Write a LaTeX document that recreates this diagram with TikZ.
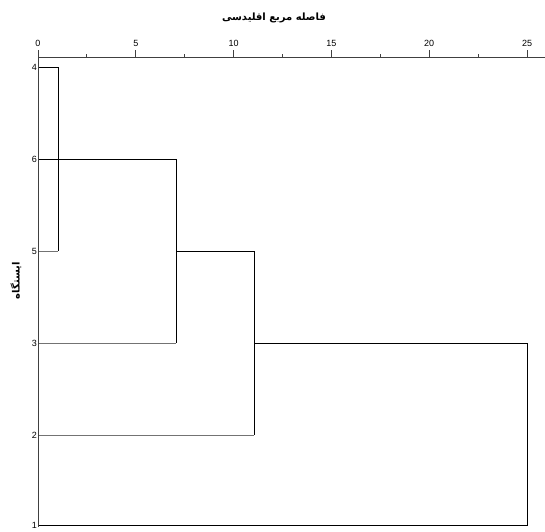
\documentclass[tikz,border=0pt]{standalone}
\usepackage{fontspec}
\setmainfont{Liberation Sans}
\newfontfamily\arabicfont[Script=Arabic]{DejaVu Sans}
\TeXXeTstate=1
\begin{document}
\begin{tikzpicture}[x=1pt,y=-1pt,
  lbl/.style={font=\fontsize{9}{10}\selectfont, inner sep=1pt},
  ar/.style={font=\arabicfont\bfseries\fontsize{10}{12}\selectfont},
  axisline/.style={draw=black!75, line width=1pt},
  dk/.style={draw=black, line width=0.9pt},
  lt/.style={draw=black!55, line width=0.9pt}]
\useasboundingbox (0,0) rectangle (545,531);
% axis
\coordinate (ax0) at (38,57);
\coordinate (axE) at (545,57);
\coordinate (ay1) at (38,527);
\draw[axisline] (ax0) -- (axE);
\draw[axisline] (ax0) -- (ay1);
\foreach \v [count=\i from 0] in {0,5,10,15,20,25}{
  \draw[axisline] (38+19.56*\v,57) -- (38+19.56*\v,50);
  \node[lbl, anchor=south] (t\i) at (38+19.56*\v,48) {\v};
}
\foreach \v in {2.5,7.5,12.5,17.5,22.5}{
  \draw[axisline] (38+19.56*\v,57) -- (38+19.56*\v,54);
}
% title
\node[ar] (title) at (274,18) {\beginR فاصله مربع اقلیدسی\endR};
\node[ar, rotate=90] (ylab) at (16,281) {\beginR ایستگاه\endR};
% row labels and leaves
\foreach \n/\y in {4/67,6/159,5/251,3/343,2/435,1/525}{
  \node[lbl, anchor=east] (r\n) at (38,\y) {\n};
  \coordinate (l\n) at (39,\y);
}
% merge points
\coordinate (a4) at (58,67);
\coordinate (a5) at (58,251);
\coordinate (b6) at (176,159);
\coordinate (b3) at (176,343);
\coordinate (c1) at (254,251);
\coordinate (c2) at (254,435);
\coordinate (d1) at (527,343);
\coordinate (d2) at (527,525);
\draw[dk] (l4) -- (a4) -- (a5);
\draw[lt] (l5) -- (a5);
\draw[dk] (l6) -- (b6) -- (b3);
\draw[lt] (l3) -- (b3);
\draw[dk] (b3 |- c1) -- (c1) -- (c2);
\draw[lt] (l2) -- (c2);
\draw[dk] (c2 |- d1) -- (d1) -- (d2) -- (l1);
\end{tikzpicture}
\end{document}
